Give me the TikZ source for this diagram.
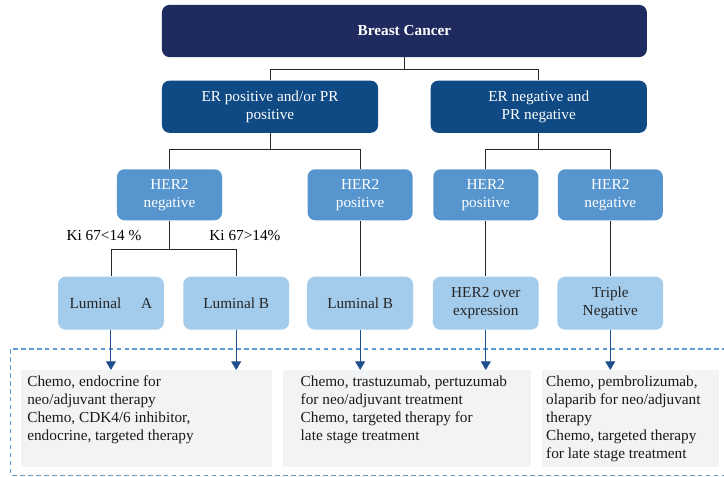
\documentclass[tikz,border=0pt]{standalone}
\usepackage{fontspec}
\setmainfont{Liberation Serif}
\usetikzlibrary{positioning,calc}
\usetikzlibrary{arrows.meta}
\definecolor{navy}{HTML}{1F2A5E}
\definecolor{ercol}{HTML}{0F4A85}
\definecolor{hercol}{HTML}{5795CE}
\definecolor{lumcol}{HTML}{A3CBEB}
\definecolor{greycol}{HTML}{F2F3F5}
\definecolor{dashcol}{HTML}{5B9BD5}
\definecolor{arrcol}{HTML}{1F4E8C}

\begin{document}
\begin{tikzpicture}[
      font=\fontsize{11.5}{13.7}\selectfont,
      box/.style={rounded corners=0.2cm, inner sep=0pt, align=center},
      topbox/.style={box, fill=navy, text=white, font=\fontsize{11.5}{13.7}\selectfont\bfseries,
         minimum width=12.83cm, minimum height=1.38cm},
      erbox/.style={box, fill=ercol, text=white, minimum width=5.72cm, minimum height=1.38cm},
      herbox/.style={box, fill=hercol, text=white, minimum width=2.78cm, minimum height=1.35cm},
      lumbox/.style={box, fill=lumcol, text=black!85, minimum width=2.8cm, minimum height=1.4cm},
      treatbox/.style={fill=greycol, inner sep=0pt, minimum height=2.57cm},
      treattext/.style={align=left, inner sep=0pt, anchor=north west, text=black!90},
      link/.style={draw=black!85, line width=0.6pt},
      totreat/.style={draw=arrcol, line width=0.8pt, -{Triangle[width=7.5pt,length=6.5pt]}}
   ]
   \useasboundingbox (0,0) rectangle (19.156,-12.62);
   \clip (0,0) rectangle (19.156,-12.62);

   % subtype tree
   \node[topbox] (bc) at (10.70,-0.82) {Breast Cancer};
   \node[erbox, below right=0.61cm and 0cm of bc.south west] (erp) {ER positive and/or PR\\positive};
   \node[erbox, below left=0.61cm and 0cm of bc.south east]  (ern) {ER negative and\\PR negative};

   \node[herbox, below=0.95cm of erp, xshift=-2.66cm] (h2a) {HER2\\negative};
   \node[herbox, right=2.25cm of h2a] (h2b) {HER2\\positive};
   \node[herbox, right=0.53cm of h2b] (h2c) {HER2\\positive};
   \node[herbox, right=0.5cm of h2c]  (h2d) {HER2\\negative};

   \node[lumbox, below=1.48cm of h2a, xshift=-1.55cm] (luma) {Luminal\hspace{1.3em}A};
   \node[lumbox, right=0.5cm of luma] (lumb) {Luminal B};
   \node[lumbox, below=1.48cm of h2b] (lumc) {Luminal B};
   \node[lumbox, below=1.48cm of h2c] (lumd) {HER2 over\\expression};
   \node[lumbox, below=1.48cm of h2d] (lume) {Triple\\Negative};

   \draw[link] (bc.south) -- ++(0,-0.31) coordinate (f0) -| (erp.north);
   \draw[link] (f0) -| (ern.north);
   \draw[link] (erp.south) -- ++(0,-0.42) coordinate (f1) -| (h2a.north);
   \draw[link] (f1) -| (h2b.north);
   \draw[link] (ern.south) -- ++(0,-0.42) coordinate (f2) -| (h2c.north);
   \draw[link] (f2) -| (h2d.north);
   \draw[link] (h2a.south) -- ++(0,-0.77) coordinate (f3) -| (luma.north);
   \draw[link] (f3) -| (lumb.north);
   \draw[link] (h2b) -- (lumc);
   \draw[link] (h2c) -- (lumd);
   \draw[link] (h2d) -- (lume);

   % Ki 67 labels
   \node (kilow)  at (2.75,-6.24) {Ki 67<14 \%};
   \node (kihigh) at (6.48,-6.24) {Ki 67>14\%};

   % treatment
   \coordinate (frnw) at (0.29,-9.234);
   \coordinate (frse) at (19.5,-12.57);
   \draw[dashcol, line width=0.8pt, dash pattern=on 3.5pt off 2.5pt] (frnw) rectangle (frse);

   \node[treatbox, minimum width=6.64cm, anchor=north west] (t1) at (0.556,-9.789) {};
   \node[treatbox, minimum width=6.56cm, right=0.26cm of t1] (t2) {};
   \node[treatbox, minimum width=4.69cm, right=0.29cm of t2] (t3) {};

   \node[treattext] (t1txt) at ([shift={(0.16,-0.14)}]t1.north west)
      {Chemo, endocrine for\\neo/adjuvant therapy\\Chemo, CDK4/6 inhibitor,\\endocrine, targeted therapy};
   \node[treattext] (t2txt) at ([shift={(0.48,-0.14)}]t2.north west)
      {Chemo, trastuzumab, pertuzumab\\for neo/adjuvant treatment\\Chemo, targeted therapy for\\late stage treatment};
   \node[treattext] (t3txt) at ([shift={(0.11,-0.14)}]t3.north west)
      {Chemo, pembrolizumab,\\olaparib for neo/adjuvant\\therapy\\Chemo, targeted therapy\\for late stage treatment};

   \draw[totreat] (luma.south) -- (luma.south |- t1.north);
   \draw[totreat] (lumb.south) -- (lumb.south |- t1.north);
   \draw[totreat] (lumc.south) -- (lumc.south |- t2.north);
   \draw[totreat] (lumd.south) -- (lumd.south |- t2.north);
   \draw[totreat] (lume.south) -- (lume.south |- t3.north);
\end{tikzpicture}
\end{document}
